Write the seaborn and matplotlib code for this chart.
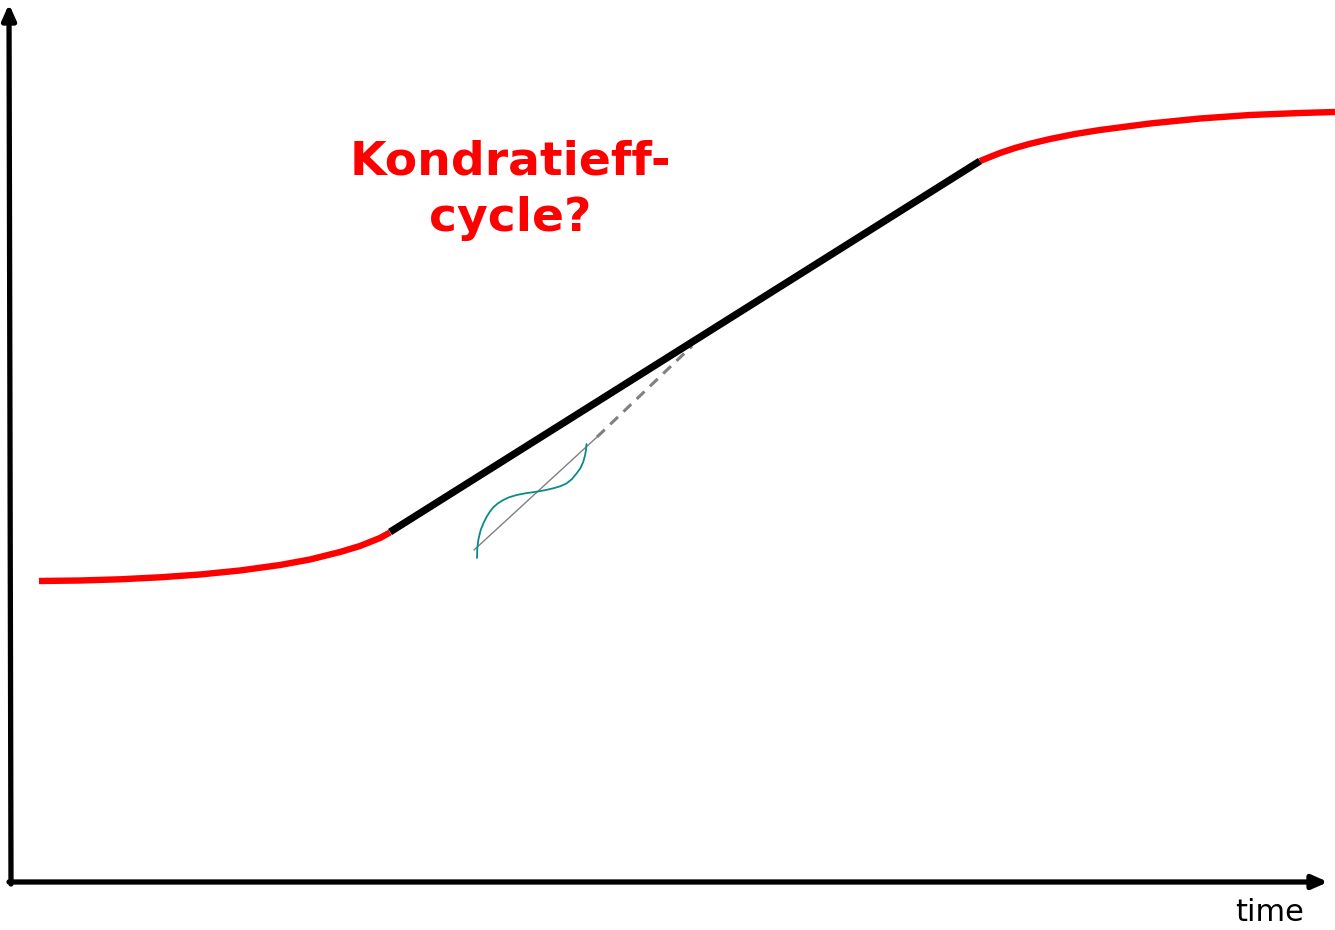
import seaborn as sns
import matplotlib
matplotlib.use("Agg")
import matplotlib.pyplot as plt
import pandas as pd

# 화면 좌표(픽셀) 기준으로 읽은 곡선 값들
low_x = [39, 80, 120, 160, 200, 240, 280, 310, 340, 360, 380, 390]
low_y = [581, 580.5, 579.3, 577.3, 574.5, 570.5, 565, 559.5, 552, 546, 538, 532.5]

mid_x = [390, 980]
mid_y = [532, 161]

high_x = [980, 990, 1000, 1015, 1030, 1050, 1075, 1100, 1150, 1200, 1250, 1300, 1335]
high_y = [161, 157, 153, 148, 143.8, 139, 134, 130, 123.5, 118.5, 115, 113, 112]

dash_x = [597, 692]
dash_y = [437, 346]

thin_x = [474, 597]
thin_y = [550, 437]

wave_x = [477, 477.3, 478.5, 480.7, 483.5, 486.7, 490, 493.3, 498, 503.3, 509, 516.7, 526, 536.7, 545, 553.3, 560.5, 566.7, 572, 576.7, 580.5, 583.3, 585, 586, 586.5]
wave_y = [558, 548, 539, 530, 523, 516.7, 511.5, 507.3, 503.3, 500, 497.3, 495, 493.2, 491.7, 490.2, 488.3, 486.2, 483.3, 479, 473.3, 468, 461.7, 455.5, 450, 444]

title_lines = ["Kondratieff-", "cycle?"]
x_label = "time"

sns.set_style("white")
fig = plt.figure(figsize=(13.35, 9.3), dpi=100)
ax = fig.add_axes([0, 0, 1, 1])

def draw(xs, ys, **kw):
    df = pd.DataFrame({"x": xs, "y": ys})
    sns.lineplot(data=df, x="x", y="y", sort=False, estimator=None, ax=ax, **kw)

draw(thin_x, thin_y, color="grey", lw=1.0)
draw(dash_x, dash_y, color="grey", lw=2.2, linestyle=(0, (3.5, 2.5)))
draw(wave_x, wave_y, color="#0a8a8a", lw=1.3)
draw(low_x, low_y, color="red", lw=4.6, solid_capstyle="butt")
draw(high_x, high_y, color="red", lw=4.6, solid_capstyle="butt")
draw(mid_x, mid_y, color="black", lw=5.2, solid_capstyle="butt")

# 축 화살표
ax.annotate("", xy=(9, 4), xytext=(11, 884),
            arrowprops=dict(arrowstyle="-|>,head_length=0.9,head_width=0.4", lw=3.8, color="black", shrinkA=0, shrinkB=0))
ax.annotate("", xy=(1328, 882), xytext=(9, 882),
            arrowprops=dict(arrowstyle="-|>,head_length=0.9,head_width=0.4", lw=3.8, color="black", shrinkA=0, shrinkB=0))

ax.text(510, 162, title_lines[0], color="red", fontsize=34, fontweight="bold",
        ha="center", va="center", family="DejaVu Sans")
ax.text(510, 218, title_lines[1], color="red", fontsize=34, fontweight="bold",
        ha="center", va="center", family="DejaVu Sans")
ax.text(1270, 912, x_label, fontsize=22, ha="center", va="center", color="black")

ax.set_xlim(0, 1335)
ax.set_ylim(930, 0)
ax.axis("off")

plt.savefig("out.png", dpi=100)
plt.close()
